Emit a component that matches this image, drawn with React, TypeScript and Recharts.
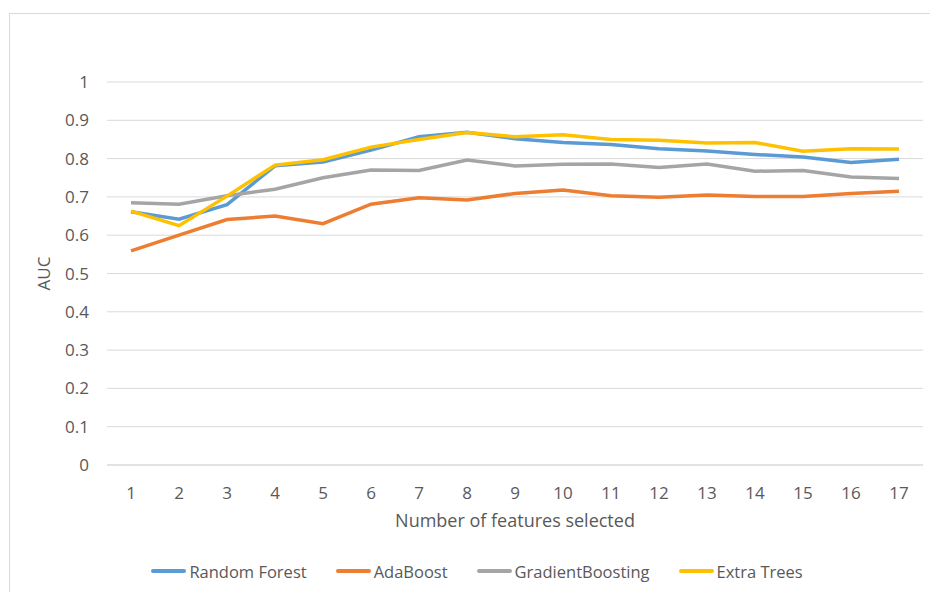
import { LineChart, Line, XAxis, YAxis, CartesianGrid } from 'recharts'

const features = [1, 2, 3, 4, 5, 6, 7, 8, 9, 10, 11, 12, 13, 14, 15, 16, 17]
const randomForest = [0.661, 0.642, 0.68, 0.781, 0.791, 0.822, 0.857, 0.869, 0.852, 0.842, 0.837, 0.826, 0.82, 0.811, 0.804, 0.79, 0.798]
const adaBoost = [0.559, 0.6, 0.641, 0.65, 0.63, 0.681, 0.698, 0.692, 0.709, 0.718, 0.703, 0.699, 0.705, 0.701, 0.701, 0.709, 0.715]
const gradientBoosting = [0.685, 0.681, 0.703, 0.72, 0.75, 0.77, 0.769, 0.796, 0.781, 0.785, 0.786, 0.777, 0.786, 0.767, 0.769, 0.752, 0.748]
const extraTrees = [0.663, 0.625, 0.702, 0.783, 0.797, 0.83, 0.85, 0.868, 0.857, 0.862, 0.85, 0.848, 0.841, 0.842, 0.819, 0.826, 0.825]
const yTicks = [0, 0.1, 0.2, 0.3, 0.4, 0.5, 0.6, 0.7, 0.8, 0.9, 1]

const series = [
  { key: 'rf', name: 'Random Forest', values: randomForest, color: '#5B9BD5' },
  { key: 'ada', name: 'AdaBoost', values: adaBoost, color: '#ED7D31' },
  { key: 'gb', name: 'GradientBoosting', values: gradientBoosting, color: '#A5A5A5' },
  { key: 'et', name: 'Extra Trees', values: extraTrees, color: '#FFC000' },
]

const data = features.map((f, i) => {
  const row: Record<string, number> = { n: f }
  series.forEach((s) => { row[s.key] = s.values[i] })
  return row
})

const font = '"Open Sans", sans-serif'
const grey = '#595959'

function LegendBox() {
  return (
    <div
      style={{
        position: 'absolute', left: 0, top: 559, width: 930, height: 24,
        display: 'flex', justifyContent: 'center', alignItems: 'center', gap: 29,
        fontFamily: font, fontSize: 16.5, color: grey, paddingLeft: 24, boxSizing: 'border-box',
      }}
    >
      {series.map((s) => (
        <span key={s.key} style={{ display: 'flex', alignItems: 'center', whiteSpace: 'nowrap' }}>
          <span style={{ width: 35, height: 3.5, borderRadius: 2, background: s.color, marginRight: 3 }} />
          {s.name}
        </span>
      ))}
    </div>
  )
}

export default function App() {
  return (
    <div style={{ position: 'absolute', left: 0, top: 0, width: 930, height: 592, background: '#fff', overflow: 'hidden' }}>
      <div style={{ position: 'absolute', left: 9, top: 13, width: 940, height: 600, border: '1px solid #d9d9d9' }} />
      <div style={{ position: 'absolute', left: 0, top: 0 }}>
        <LineChart width={930} height={592} data={data} margin={{ top: 82, right: 7, left: 0, bottom: 97 }}>
          <CartesianGrid vertical={false} stroke="#d9d9d9" strokeWidth={1} />
          <XAxis
            dataKey="n"
            height={30}
            padding={{ left: 24, right: 24 }}
            axisLine={{ stroke: '#d9d9d9' }}
            tickLine={false}
            tickMargin={16}
            tick={{ fill: grey, fontSize: 17, fontFamily: font }}
            label={{ value: 'Number of features selected', position: 'bottom', offset: 19, fill: grey, fontSize: 18, fontFamily: font }}
          />
          <YAxis
            width={107}
            domain={[0, 1]}
            ticks={yTicks}
            interval={0}
            axisLine={false}
            tickLine={false}
            tickMargin={12}
            tick={{ fill: grey, fontSize: 17, fontFamily: font }}
            label={{ value: 'AUC', angle: -90, position: 'insideLeft', offset: 44, fill: grey, fontSize: 17, fontFamily: font, style: { textAnchor: 'middle' } }}
          />
          {series.map((s) => (
            <Line
              key={s.key}
              dataKey={s.key}
              name={s.name}
              stroke={s.color}
              strokeWidth={3.5}
              dot={false}
              activeDot={false}
              isAnimationActive={false}
            />
          ))}
        </LineChart>
      </div>
      <LegendBox />
    </div>
  )
}
